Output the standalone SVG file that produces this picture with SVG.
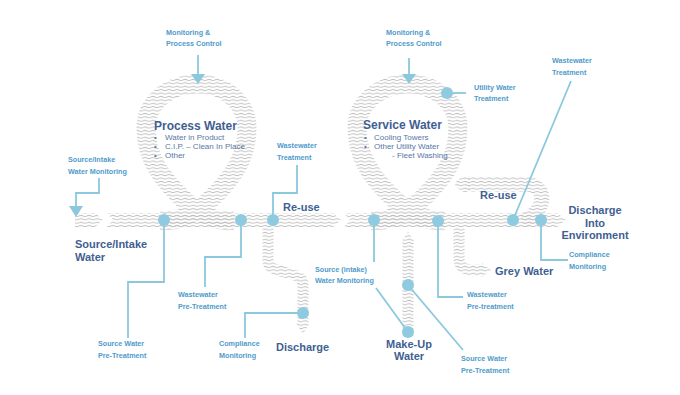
<svg xmlns="http://www.w3.org/2000/svg" width="680" height="395" viewBox="0 0 680 395">
<defs>
<pattern id="waves" patternUnits="userSpaceOnUse" width="8" height="3.4">
<path d="M-1 1.9 Q1 0.6 3 1.7 T7 1.7 T11 1.7" fill="none" stroke="#c2c2c2" stroke-width="0.95"/>
</pattern>
<style>
.band{fill:none;stroke:url(#waves)}
.bandf{fill:url(#waves)}
.ln{fill:none;stroke:#8cc8dd;stroke-width:1.8}
.dot{fill:#8fcbe0}
.ah{fill:#8cc8dd}
.lab{font-family:"Liberation Sans",Arial,sans-serif;font-size:7.2px;font-weight:bold;fill:#4f9bcb}
.big{font-family:"Liberation Sans",Arial,sans-serif;font-size:11px;font-weight:bold;fill:#3f5f92}
.title{font-family:"Liberation Sans",Arial,sans-serif;font-size:12px;font-weight:bold;fill:#3f5f92}
.bul{font-family:"Liberation Sans",Arial,sans-serif;font-size:8px;fill:#5877a6}
</style>
</defs>
<rect width="680" height="395" fill="#ffffff"/>

<g id="flows">
<polygon class="bandf" points="75,213 95,213 103,220 95,227 75,227"/>
<polygon class="bandf" points="107,213 333,213 341,220 333,227 107,227 113,220"/>
<polygon class="bandf" points="344,213 557,213 566,220 557,227 344,227 350,220"/>
<path class="band" stroke-width="19" d="M160 221 C185 221,198 212,214 196 C232 178,247 158,247 128 C247 102,224 84,197 84 C170 84,146 102,146 128 C146 158,162 178,180 196 C196 212,209 221,234 221"/>
<path class="band" stroke-width="19" d="M371 221 C396 221,409 212,425 196 C443 178,458 158,458 128 C458 102,435 84,408 84 C381 84,357 102,357 128 C357 158,373 178,391 196 C407 212,420 221,445 221"/>
<path class="band" stroke-width="15" d="M522 221 C548 212,548 184,525 184 L468 184"/>
<polygon class="bandf" points="470,176 462,176 454,184 462,192 470,192"/>
<path class="band" stroke-width="11" d="M268 227 L268 262 C268 274,303 270,303 284 L303 323"/>
<polygon class="bandf" points="296,323 310,323 303,334"/>
<path class="band" stroke-width="11" d="M459 227 L459 258 C459 267,464 270,474 270 L482 270"/>
<polygon class="bandf" points="482,263 482,277 491,270"/>
<path class="band" stroke-width="11" d="M408 336 L408 242"/>
<polygon class="bandf" points="401,242 415,242 408,232"/>
</g>

<g id="connectors">
<line class="ln" x1="198" y1="55" x2="198" y2="75"/>
<polygon class="ah" points="191,74 205,74 198,84"/>
<line class="ln" x1="409" y1="58" x2="409" y2="75"/>
<polygon class="ah" points="402,74 416,74 409,84"/>
<polyline class="ln" points="99,178 99,193 76,193 76,207"/>
<polygon class="ah" points="69,206 83,206 76,217"/>
<polyline class="ln" points="164,220 164,282 128,282 128,338"/>
<polyline class="ln" points="241,220 241,257 205,257 205,287"/>
<polyline class="ln" points="303,313 245,313 245,338"/>
<polyline class="ln" points="273,220 273,193 297,193 297,165"/>
<line class="ln" x1="374" y1="220" x2="374" y2="262"/>
<line class="ln" x1="376" y1="288" x2="408" y2="332"/>
<line class="ln" x1="408" y1="285" x2="463" y2="350"/>
<polyline class="ln" points="438,221 438,297 463,297"/>
<line class="ln" x1="571" y1="81" x2="513" y2="220"/>
<polyline class="ln" points="541,221 541,260 568,260"/>
<line class="ln" x1="447" y1="93" x2="466" y2="93"/>
</g>

<g id="dots">
<circle class="dot" cx="164" cy="220" r="6"/>
<circle class="dot" cx="241" cy="220" r="6"/>
<circle class="dot" cx="273" cy="220" r="6"/>
<circle class="dot" cx="374" cy="220" r="6"/>
<circle class="dot" cx="438" cy="221" r="6"/>
<circle class="dot" cx="513" cy="220" r="6"/>
<circle class="dot" cx="541" cy="220" r="6"/>
<circle class="dot" cx="303" cy="313" r="6"/>
<circle class="dot" cx="408" cy="285" r="6"/>
<circle class="dot" cx="408" cy="332" r="6"/>
<circle class="dot" cx="447" cy="93" r="6"/>
</g>

<g id="process-water">
<text class="title" x="154" y="130">Process Water</text>
<text class="bul" x="154" y="140">•</text><text class="bul" x="165" y="140">Water in Product</text>
<text class="bul" x="154" y="149">•</text><text class="bul" x="165" y="149">C.I.P. – Clean In Place</text>
<text class="bul" x="154" y="158">•</text><text class="bul" x="165" y="158">Other</text>
</g>

<g id="service-water">
<text class="title" x="363" y="129">Service Water</text>
<text class="bul" x="364" y="140">•</text><text class="bul" x="374" y="140">Cooling Towers</text>
<text class="bul" x="364" y="149">•</text><text class="bul" x="374" y="149">Other Utility Water</text>
<text class="bul" x="392" y="158">- Fleet Washing</text>
</g>

<g id="source-intake-water"><text class="big" x="75" y="248">Source/Intake</text><text class="big" x="75" y="261">Water</text></g>
<g id="reuse-1"><text class="big" x="283" y="211">Re-use</text></g>
<g id="reuse-2"><text class="big" x="480" y="199">Re-use</text></g>
<g id="discharge"><text class="big" x="276" y="351">Discharge</text></g>
<g id="make-up-water"><text class="big" x="409" y="348" text-anchor="middle">Make-Up</text><text class="big" x="409" y="360" text-anchor="middle">Water</text></g>
<g id="grey-water"><text class="big" x="495" y="275">Grey Water</text></g>
<g id="discharge-env"><text class="big" x="595" y="214" text-anchor="middle">Discharge</text><text class="big" x="595" y="227" text-anchor="middle">Into</text><text class="big" x="595" y="239" text-anchor="middle">Environment</text></g>

<g id="lbl-monitoring-1"><text class="lab" x="166" y="35">Monitoring &amp;</text><text class="lab" x="166" y="46">Process Control</text></g>
<g id="lbl-monitoring-2"><text class="lab" x="386" y="35">Monitoring &amp;</text><text class="lab" x="386" y="46">Process Control</text></g>
<g id="lbl-utility"><text class="lab" x="474" y="90">Utility Water</text><text class="lab" x="474" y="101">Treatment</text></g>
<g id="lbl-wwt-right"><text class="lab" x="552" y="63">Wastewater</text><text class="lab" x="552" y="75">Treatment</text></g>
<g id="lbl-wwt-mid"><text class="lab" x="277" y="148">Wastewater</text><text class="lab" x="277" y="160">Treatment</text></g>
<g id="lbl-source-monitoring"><text class="lab" x="68" y="162">Source/Intake</text><text class="lab" x="68" y="174">Water Monitoring</text></g>
<g id="lbl-swpt-left"><text class="lab" x="98" y="346">Source Water</text><text class="lab" x="98" y="358">Pre-Treatment</text></g>
<g id="lbl-wwpt-left"><text class="lab" x="178" y="297">Wastewater</text><text class="lab" x="178" y="309">Pre-Treatment</text></g>
<g id="lbl-compliance-left"><text class="lab" x="219" y="346">Compliance</text><text class="lab" x="219" y="358">Monitoring</text></g>
<g id="lbl-source-intake-mon"><text class="lab" x="315" y="272">Source (intake)</text><text class="lab" x="315" y="283">Water Monitoring</text></g>
<g id="lbl-wwpt-right"><text class="lab" x="467" y="297">Wastewater</text><text class="lab" x="467" y="309">Pre-treatment</text></g>
<g id="lbl-swpt-right"><text class="lab" x="461" y="361">Source Water</text><text class="lab" x="461" y="373">Pre-Treatment</text></g>
<g id="lbl-compliance-right"><text class="lab" x="569" y="257">Compliance</text><text class="lab" x="569" y="269">Monitoring</text></g>
</svg>
